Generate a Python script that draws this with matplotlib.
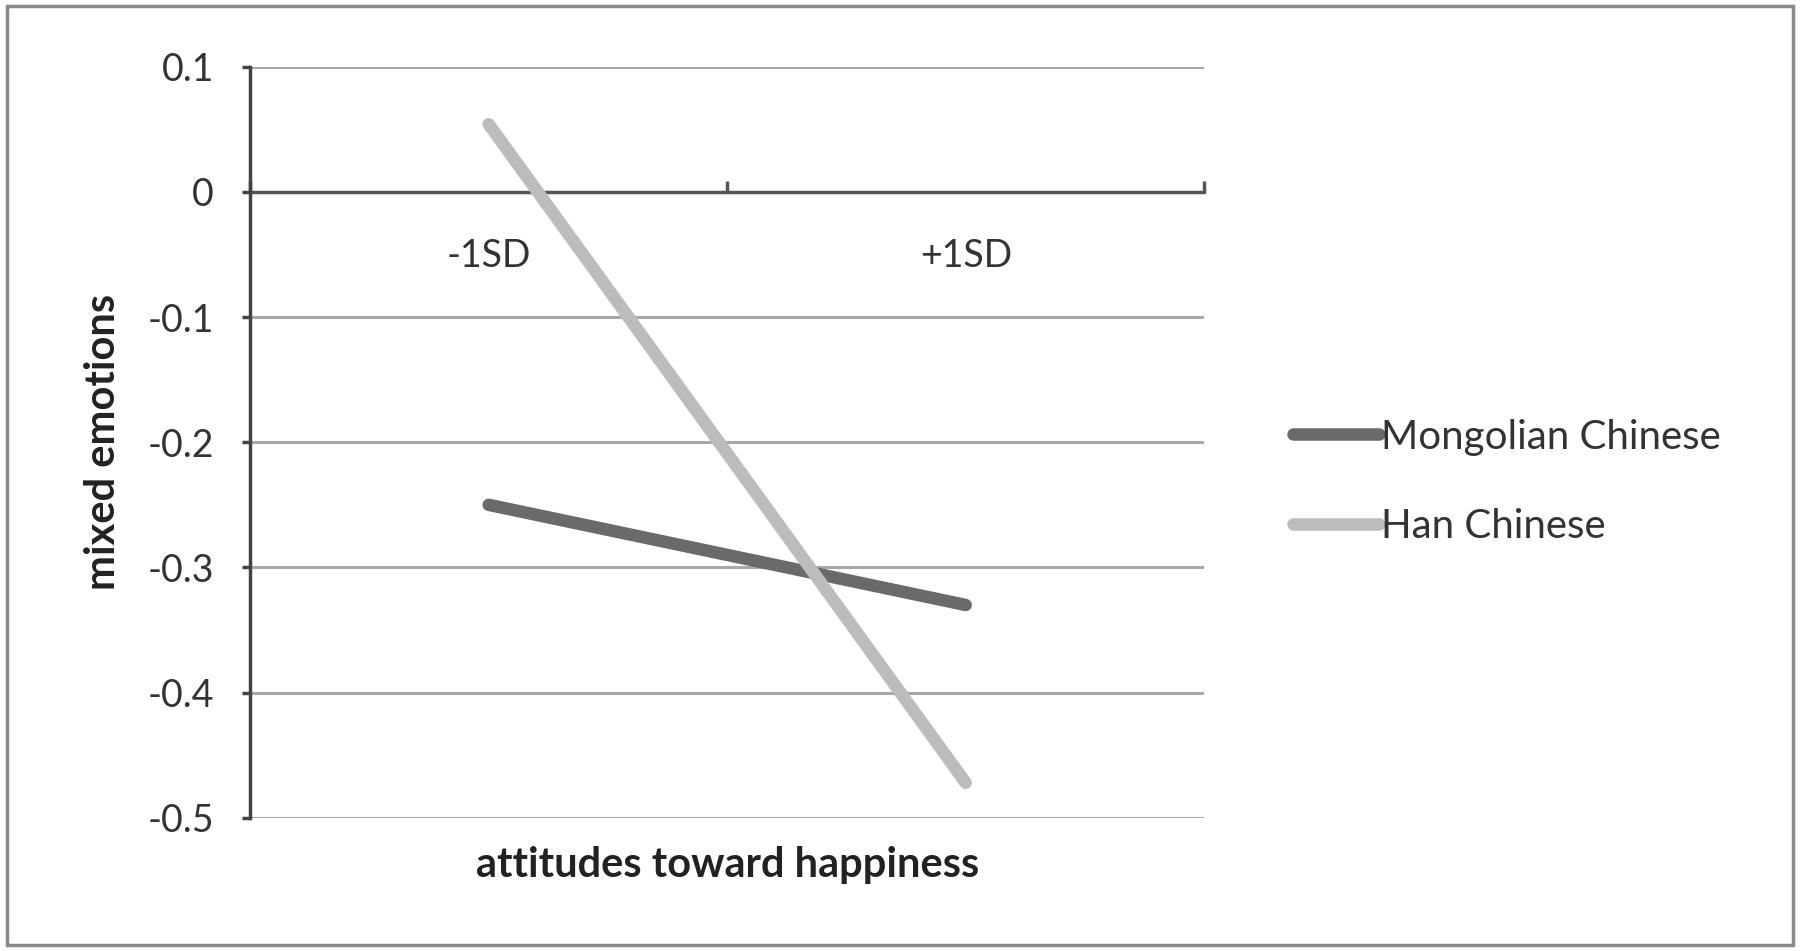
import matplotlib.pyplot as plt
import numpy as np
from matplotlib.patches import Rectangle

plt.rcParams['font.family'] = ['Lato', 'DejaVu Sans']

# 数据
categories = ['-1SD', '+1SD']
mongolian = [-0.25, -0.33]
han = [0.054, -0.472]
series_names = ['Mongolian Chinese', 'Han Chinese']
series_colors = ['#6a6a6a', '#bcbcbc']
y_ticks = [0.1, 0, -0.1, -0.2, -0.3, -0.4, -0.5]

fig = plt.figure(figsize=(18, 9.51), dpi=100)
ax = fig.add_axes([0.139, 0.140, 0.530, 0.790])

x = np.arange(len(categories))

# 网格线
for yv in y_ticks:
    if yv != 0:
        ax.axhline(yv, color='#a8a8a8', linewidth=2.2, zorder=1)

# 折线
for vals, name, col in zip([mongolian, han], series_names, series_colors):
    ax.plot(x, vals, color=col, linewidth=9, solid_capstyle='round',
            label=name, zorder=3)

ax.set_xlim(-0.5, len(categories) - 0.5)
ax.set_ylim(-0.5, 0.1)

# 坐标轴
for s in ['top', 'right']:
    ax.spines[s].set_visible(False)
ax.spines['bottom'].set_position(('data', 0))
ax.spines['bottom'].set_color('#555555')
ax.spines['bottom'].set_linewidth(2.5)
ax.spines['bottom'].set_zorder(2)
ax.spines['left'].set_color('#444444')
ax.spines['left'].set_linewidth(2.5)

ax.set_yticks(y_ticks)
ax.set_yticklabels(['0.1', '0', '-0.1', '-0.2', '-0.3', '-0.4', '-0.5'])
ax.tick_params(axis='y', length=6, width=2.5, color='#444444', pad=20,
               labelsize=27, labelcolor='#333333')

ax.set_xticks(x)
ax.set_xticklabels(categories)
ax.set_xticks(np.arange(-0.5, len(categories), 1.0), minor=True)
ax.tick_params(axis='x', which='major', length=0, pad=33,
               labelsize=27, labelcolor='#333333')
ax.tick_params(axis='x', which='minor', direction='in', length=8, width=2.5,
               color='#555555')

ax.set_ylabel('mixed emotions', fontsize=30, fontweight='bold',
              color='#222222', labelpad=18)
ax.text(0.5, -0.038, 'attitudes toward happiness', transform=ax.transAxes,
        ha='center', va='top', fontsize=30, fontweight='bold', color='#222222')

# 图例
leg = fig.legend(loc='upper left', bbox_to_anchor=(0.698, 0.598),
                 frameon=False, fontsize=29, handlelength=2.15,
                 handletextpad=0.05, labelspacing=1.3, labelcolor='#333333')

# 外框
fig.patches.append(Rectangle((0.004, 0.006), 0.992, 0.988, transform=fig.transFigure,
                             fill=False, edgecolor='#8a8a8a', linewidth=2.5))

fig.savefig('out.png', dpi=100)
